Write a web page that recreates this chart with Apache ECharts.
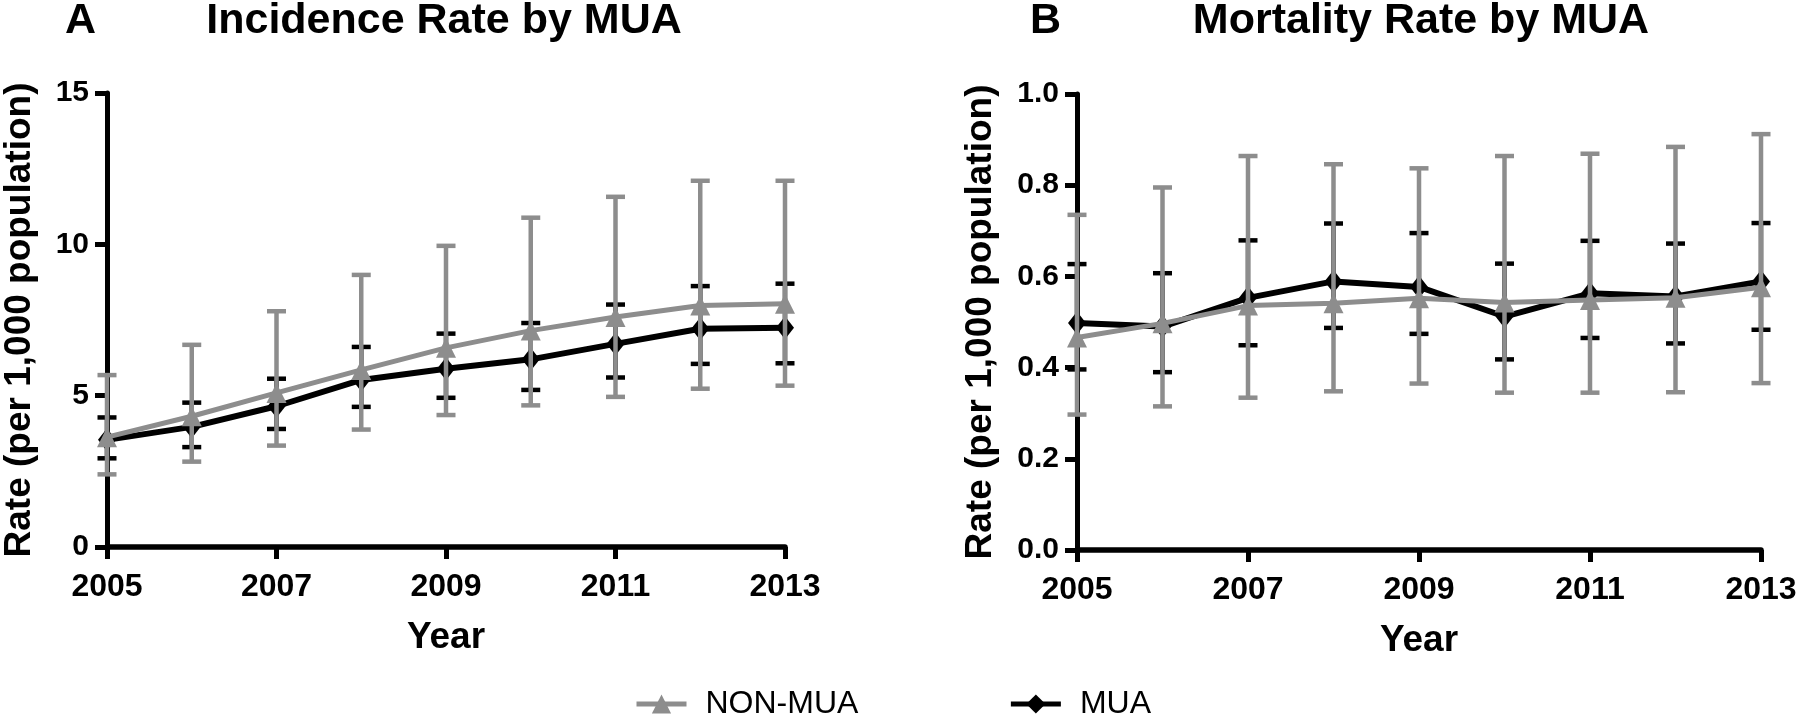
<!DOCTYPE html>
<html>
<head>
<meta charset="utf-8">
<script src="https://cdn.jsdelivr.net/npm/echarts@6/dist/echarts.min.js"></script>
<style>
  html, body { margin: 0; padding: 0; background: #fff; }
  #chart { width: 1800px; height: 716px; }
</style>
</head>
<body>
<div id="chart"></div>
<script>
// 數據
var years = [2005, 2006, 2007, 2008, 2009, 2010, 2011, 2012, 2013];

// A: incidence per 1,000
var incNonMean = [3.63, 4.32, 5.09, 5.85, 6.58, 7.15, 7.6, 7.98, 8.04];
var incNonHigh = [5.68, 6.68, 7.79, 8.99, 9.95, 10.88, 11.57, 12.1, 12.1];
var incNonLow = [2.4, 2.82, 3.35, 3.88, 4.36, 4.68, 4.96, 5.23, 5.33];
var incMuaMean = [3.54, 3.97, 4.65, 5.52, 5.89, 6.2, 6.71, 7.21, 7.24];
var incMuaHigh = [4.28, 4.77, 5.56, 6.61, 7.05, 7.4, 8.01, 8.62, 8.7];
var incMuaLow = [2.93, 3.3, 3.9, 4.63, 4.93, 5.19, 5.6, 6.05, 6.07];

// B: mortality per 1,000
var morNonMean = [0.466, 0.497, 0.536, 0.541, 0.552, 0.543, 0.548, 0.553, 0.576];
var morNonHigh = [0.735, 0.795, 0.864, 0.846, 0.837, 0.864, 0.869, 0.884, 0.912];
var morNonLow = [0.297, 0.315, 0.334, 0.348, 0.365, 0.345, 0.345, 0.346, 0.366];
var morMuaMean = [0.498, 0.49, 0.553, 0.589, 0.577, 0.512, 0.563, 0.556, 0.589];
var morMuaHigh = [0.627, 0.607, 0.679, 0.716, 0.695, 0.628, 0.678, 0.672, 0.717];
var morMuaLow = [0.396, 0.39, 0.449, 0.487, 0.474, 0.418, 0.465, 0.453, 0.483];

var yTicksA = [0, 15, 5];
var yTicksB = [0, 1, 0.2];

var GRAY = "#8d8d8d";
var FONT = "Liberation Sans, Arial, sans-serif";

function pairs(ys) {
  var out = [];
  for (var i = 0; i < years.length; i++) {
    out.push([years[i], ys[i]]);
  }
  return out;
}
function bars(lo, hi) {
  var out = [];
  for (var i = 0; i < years.length; i++) {
    out.push([years[i], lo[i], hi[i]]);
  }
  return out;
}

//誤差線
function errRender(color) {
  return function (params, api) {
    var x = api.value(0);
    var lo = api.coord([x, api.value(1)]);
    var hi = api.coord([x, api.value(2)]);
    var half = 9.5;
    var st = { stroke: color, lineWidth: 4.5 };
    return {
      type: "group",
      children: [
        { type: "line", shape: { x1: lo[0], y1: lo[1], x2: hi[0], y2: hi[1] }, style: st },
        { type: "line", shape: { x1: lo[0] - half, y1: lo[1], x2: lo[0] + half, y2: lo[1] }, style: st },
        { type: "line", shape: { x1: hi[0] - half, y1: hi[1], x2: hi[0] + half, y2: hi[1] }, style: st }
      ]
    };
  };
}

function xAxisSet(gi) {
  return {
    type: "value",
    gridIndex: gi,
    min: years[0],
    max: years[years.length - 1],
    interval: 2,
    name: "Year",
    nameLocation: "middle",
    nameGap: 72,
    nameTextStyle: { color: "#000", fontFamily: FONT, fontWeight: "bold", fontSize: 37 },
    axisLine: { lineStyle: { color: "#000", width: 5.5 } },
    axisTick: { length: 12, lineStyle: { color: "#000", width: 5 } },
    axisLabel: {
      color: "#000", fontFamily: FONT, fontWeight: "bold", fontSize: 32, margin: 24,
      formatter: function (v) { return String(v); }
    },
    splitLine: { show: false }
  };
}

function yAxisSet(gi, ticks, gap, fmt) {
  return {
    type: "value",
    gridIndex: gi,
    min: ticks[0],
    max: ticks[1],
    interval: ticks[2],
    name: "Rate (per 1,000 population)",
    nameLocation: "middle",
    nameGap: gap,
    nameTextStyle: { color: "#000", fontFamily: FONT, fontWeight: "bold", fontSize: 37 },
    axisLine: { show: true, lineStyle: { color: "#000", width: 5 } },
    axisTick: { show: true, length: 12, lineStyle: { color: "#000", width: 5 } },
    axisLabel: { color: "#000", fontFamily: FONT, fontWeight: "bold", fontSize: 30, margin: 18, formatter: fmt },
    splitLine: { show: false }
  };
}

function lineSeries(name, data, gi, color, symbol, size, width, z) {
  return {
    type: "line",
    name: name,
    data: data,
    xAxisIndex: gi,
    yAxisIndex: gi,
    symbol: symbol,
    symbolSize: size,
    color: color,
    lineStyle: { color: color, width: width },
    itemStyle: { color: color },
    z: z,
    animation: false
  };
}

function errSeries(name, data, gi, color, z) {
  return {
    type: "custom",
    name: name,
    data: data,
    xAxisIndex: gi,
    yAxisIndex: gi,
    renderItem: errRender(color),
    encode: { x: 0, y: [1, 2] },
    z: z,
    silent: true,
    animation: false
  };
}

var myChart = echarts.init(document.getElementById("chart"));

var titleStyle = { color: "#000", fontFamily: FONT, fontWeight: "bold", fontSize: 43, lineHeight: 43 };

var option = {
  animation: false,
  backgroundColor: "#fff",
  title: [
    { text: "A", left: 65, top: 0, padding: 0, textStyle: titleStyle },
    { text: "Incidence Rate by MUA", left: 444, top: 0, padding: 0, textAlign: "center", textStyle: titleStyle },
    { text: "B", left: 1030, top: 0, padding: 0, textStyle: titleStyle },
    { text: "Mortality Rate by MUA", left: 1421, top: 0, padding: 0, textAlign: "center", textStyle: titleStyle }
  ],
  legend: {
    data: ["NON-MUA", "MUA"],
    left: 629,
    top: 683,
    itemWidth: 50,
    itemHeight: 24,
    itemGap: 150,
    lineStyle: { width: 5 },
    textStyle: { color: "#000", fontFamily: FONT, fontSize: 32, padding: [0, 0, 0, 14] }
  },
  grid: [
    { left: 103, top: 93, width: 682, height: 454 },
    { left: 1077, top: 94, width: 684, height: 456 }
  ],
  xAxis: [xAxisSet(0), xAxisSet(1)],
  yAxis: [
    yAxisSet(0, yTicksA, 69, function (v) { return String(v); }),
    yAxisSet(1, yTicksB, 78, function (v) { return v.toFixed(1); })
  ],
  series: [
    errSeries("MUA err A", bars(incMuaLow, incMuaHigh), 0, "#000", 1),
    lineSeries("MUA", pairs(incMuaMean), 0, "#000", "diamond", [18, 23], 6, 2),
    errSeries("NON err A", bars(incNonLow, incNonHigh), 0, GRAY, 3),
    lineSeries("NON-MUA", pairs(incNonMean), 0, GRAY, "triangle", 20, 5, 4),

    errSeries("MUA err B", bars(morMuaLow, morMuaHigh), 1, "#000", 1),
    lineSeries("MUA", pairs(morMuaMean), 1, "#000", "diamond", [18, 23], 6, 2),
    errSeries("NON err B", bars(morNonLow, morNonHigh), 1, GRAY, 3),
    lineSeries("NON-MUA", pairs(morNonMean), 1, GRAY, "triangle", 20, 5, 4)
  ]
};
myChart.setOption(option);
</script>
</body>
</html>
